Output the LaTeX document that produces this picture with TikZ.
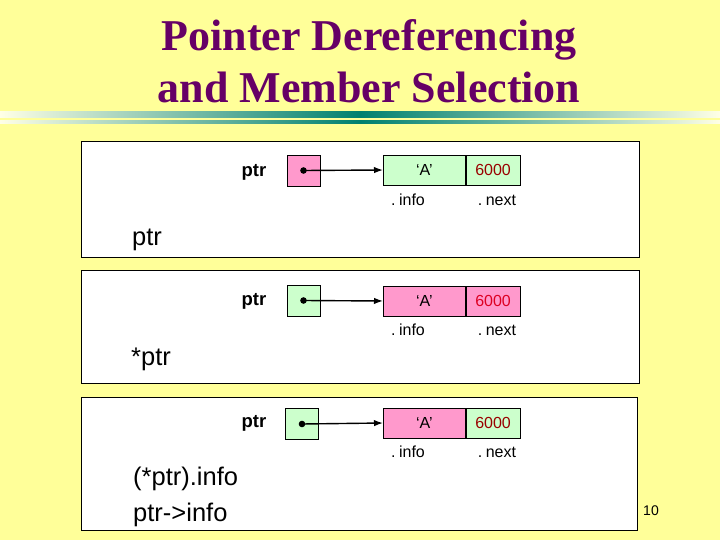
\documentclass[tikz,border=0pt]{standalone}
\usepackage{fontspec}
\setmainfont{Liberation Sans}
\newfontfamily\titlefont{Liberation Serif}
\usetikzlibrary{arrows.meta}
\definecolor{slidebg}{HTML}{FFFF99}
\definecolor{titlepurple}{HTML}{660066}
\definecolor{cellpink}{HTML}{FF99CC}
\definecolor{cellgreen}{HTML}{CCFFCC}
\definecolor{darkred}{HTML}{990000}
\definecolor{brightred}{HTML}{DD0022}
\definecolor{barteal}{HTML}{00806F}
\definecolor{barpale}{HTML}{FFFFE6}
\tikzset{
  panel/.style={draw, fill=white, line width=1pt},
  ptrbox/.style={draw, line width=0.7pt, minimum width=33pt, minimum height=31pt, inner sep=0pt},
  infocell/.style={draw, line width=0.7pt, anchor=west, minimum width=82pt, minimum height=30pt, inner sep=0pt, font=\fontsize{16}{16}\selectfont},
  nextcell/.style={draw, line width=0.7pt, anchor=west, minimum width=54pt, minimum height=30pt, inner sep=0pt, font=\fontsize{16}{16}\selectfont},
  fieldlbl/.style={font=\fontsize{16}{16}\selectfont},
  ptrlbl/.style={font=\fontsize{18.5}{18.5}\selectfont\bfseries},
  exprlbl/.style={anchor=base west, inner sep=0pt, font=\fontsize{25.5}{25.5}\selectfont},
  titlelbl/.style={anchor=base, text=titlepurple, font=\titlefont\bfseries\fontsize{44}{44}\selectfont},
  link/.style={-{Latex[length=9pt,width=6.5pt]}, line width=1.4pt},
}
\begin{document}
\begin{tikzpicture}[x=1pt,y=-1pt]
	\fill[slidebg] (0,0) rectangle (720,540);
	\useasboundingbox (0,0) rectangle (720,540);
	% title and bar
	\node[titlelbl] (title1) at (369,51) {Pointer Dereferencing};
	\node[titlelbl] (title2) at (369,103) {and Member Selection};
	\shade[left color=barpale, right color=barteal] (0,112) rectangle (360,118);
	\shade[left color=barteal, right color=barpale] (360,112) rectangle (720,118);
	\shade[left color=barpale, right color=barteal] (0,121) rectangle (360,124);
	\shade[left color=barteal, right color=barpale] (360,121) rectangle (720,124);
	% ptr
	\draw[panel] (81,142) rectangle (639,257);
	\node[ptrlbl] (lbl1) at (254,172) {ptr};
	\node[ptrbox, fill=cellpink] (p1) at (303.5,170.5) {};
	\node[infocell, fill=cellgreen] (i1) at (383,170) {‘A’};
	\node[nextcell, fill=cellgreen, text=darkred] (n1) at (i1.east) {6000};
	\node[fieldlbl] (f1) at (408,200) {.\kern3.5pt info};
	\node[fieldlbl] (g1) at (497,200) {.\kern3.5pt next};
	\fill (p1.center) circle (3.3pt);
	\draw[link] (p1.center) -- (i1.west);
	\node[exprlbl] (e1) at (132,245) {ptr};
	% *ptr
	\draw[panel] (81,270) rectangle (639,383);
	\node[ptrlbl] (lbl2) at (254,301) {ptr};
	\node[ptrbox, fill=cellgreen] (p2) at (303.5,300.5) {};
	\node[infocell, fill=cellpink] (i2) at (383,301) {‘A’};
	\node[nextcell, fill=cellpink, text=brightred] (n2) at (i2.east) {6000};
	\node[fieldlbl] (f2) at (408,330) {.\kern3.5pt info};
	\node[fieldlbl] (g2) at (497,330) {.\kern3.5pt next};
	\fill (p2.center) circle (3.3pt);
	\draw[link] (p2.center) -- (i2.west);
	\node[exprlbl] (e2) at (131,365) {*ptr};
	% (*ptr).info
	\draw[panel] (81,397) rectangle (637,530);
	\node[ptrlbl] (lbl3) at (254,423) {ptr};
	\node[ptrbox, fill=cellgreen] (p3) at (302,424) {};
	\node[infocell, fill=cellpink] (i3) at (383,423) {‘A’};
	\node[nextcell, fill=cellgreen, text=darkred] (n3) at (i3.east) {6000};
	\node[fieldlbl] (f3) at (408,452) {.\kern3.5pt info};
	\node[fieldlbl] (g3) at (497,452) {.\kern3.5pt next};
	\fill (p3.center) circle (3.3pt);
	\draw[link] (p3.center) -- (i3.west);
	\node[exprlbl] (e3) at (133,485) {(*ptr).info};
	\node[exprlbl] (e4) at (133,521) {ptr->info};
	\node[font=\fontsize{14}{14}\selectfont] (pageno) at (651,511) {10};
\end{tikzpicture}
\end{document}
